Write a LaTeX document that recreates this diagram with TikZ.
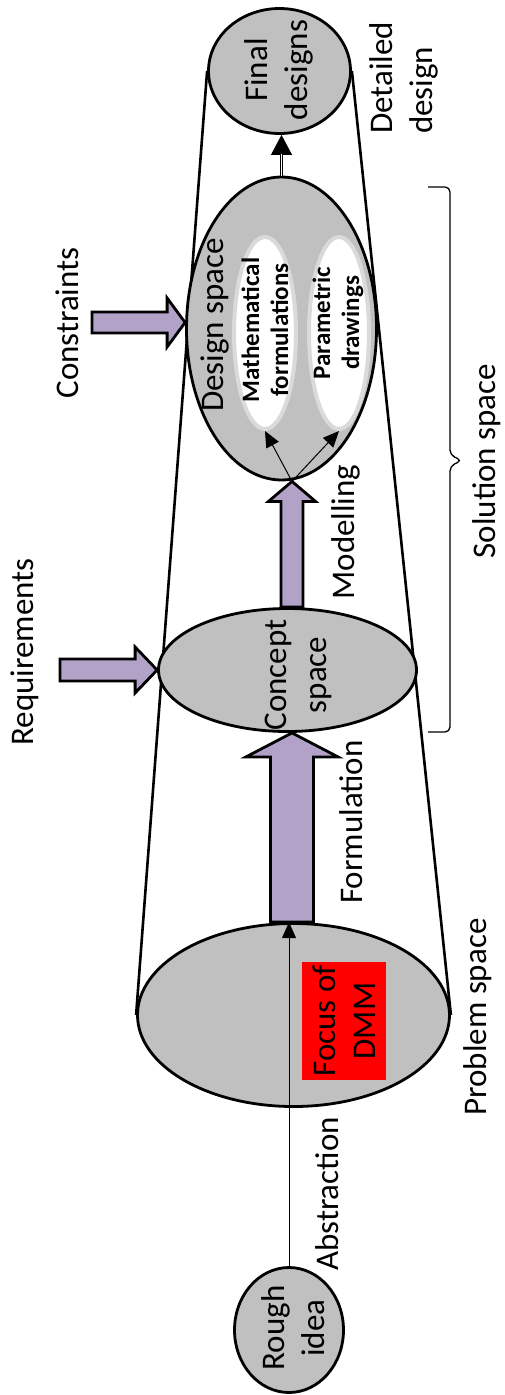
\documentclass[tikz,border=0pt]{standalone}
\usepackage{fontspec}
\setmainfont{Carlito}
\usetikzlibrary{arrows.meta,calc,shapes.geometric,backgrounds}
\definecolor{spacegray}{HTML}{C0C0C0}
\definecolor{flowpurple}{HTML}{B3A2C7}
\definecolor{innerrim}{HTML}{DADADA}

\tikzset{
  space/.style={ellipse, draw, line width=2.8pt, fill=spacegray, inner sep=0pt},
  inner/.style={ellipse, draw=innerrim, line width=4pt, fill=white, inner sep=0pt},
  lbl/.style={rotate=90, font=\fontsize{33}{40}\selectfont, align=center, inner sep=0pt},
  sublbl/.style={rotate=90, font=\bfseries\fontsize{25}{29}\selectfont, align=center, inner sep=0pt},
  funnel/.style={line width=2.6pt},
  blockarrow/.style={draw, line width=2.8pt, fill=flowpurple, line join=miter},
  thinarrow/.style={line width=1pt, -{Triangle[length=16pt,width=14pt]}},
}

% #1 name, #2 from, #3 to, #4 shaft half width, #5 head half width, #6 head length
\newcommand\fatarrow[6]{%
  \coordinate (#1-s) at (#2);
  \coordinate (#1-t) at (#3);
  \coordinate (#1-h) at ($(#1-t)!#6!(#1-s)$);
  \draw[blockarrow]
    ($(#1-s)!#4!90:(#1-t)$) -- ($(#1-h)!#4!90:(#1-t)$) -- ($(#1-h)!#5!90:(#1-t)$)
    -- (#1-t)
    -- ($(#1-h)!#5!-90:(#1-t)$) -- ($(#1-h)!#4!-90:(#1-t)$) -- ($(#1-s)!#4!-90:(#1-t)$)
    -- cycle;
}

\begin{document}
\begin{tikzpicture}[x=1pt, y=-1pt]
\useasboundingbox (0,0) rectangle (505,1395);

% the five spaces of the process
\node[space, minimum width=142pt, minimum height=125pt] (final)   at (279.5,71)   {};
\node[space, minimum width=190pt, minimum height=303pt] (design)  at (281.5,328.5) {};
\node[space, minimum width=258pt, minimum height=123pt] (concept) at (287.5,670)  {};
\node[space, minimum width=312pt, minimum height=183pt] (problem) at (293.5,1015) {};
\node[space, minimum width=109pt, minimum height=125pt] (rough)   at (289,1330)   {};

% the two models inside the design space
\node[inner, minimum width=62pt, minimum height=192pt] (math)  at (265,333) {};
\node[inner, minimum width=60pt, minimum height=192pt] (param) at (339,333) {};

% funnel outline behind the spaces
\begin{scope}[on background layer]
  \fill[white] (0,0) rectangle (505,1395);
  \draw[funnel] (final.west) -- (problem.west);
  \draw[funnel] (final.east) -- (problem.east);
\end{scope}

\coordinate (axis) at (292,0);
\coordinate (reqstart) at (60,670);
\coordinate (constart) at (92,322.5);

% block arrows
\fatarrow{formulation}{axis |- problem.north}{axis |- concept.south}{21.5pt}{46pt}{24pt}
\fatarrow{modelling}{axis |- concept.north}{axis |- design.south}{11pt}{23.5pt}{20pt}
\fatarrow{requirements}{reqstart}{concept.west |- reqstart}{11pt}{23pt}{22pt}
\fatarrow{constraints}{constart}{design.west |- constart}{10.5pt}{24.5pt}{18pt}

% thin arrows
\draw[thinarrow] (rough.north) -- (rough.north |- problem.north);
\draw[thinarrow] (axis |- design.south) -- (math.south);
\draw[thinarrow] (axis |- design.south) -- (param.south);

% double-shafted arrow to the final designs
\draw[line width=0.8pt, -{Triangle[length=20pt,width=21pt]}] (design.north) -- (design.north |- final.south);
\draw[line width=0.8pt, double=white, double distance=1.6pt, shorten >=19pt] (design.north) -- (design.north |- final.south);

% focus box
\node[lbl, fill=red, minimum width=118pt, minimum height=84pt] (focus) at (344,1021) {Focus of\\DMM};

% brace over the solution space
\draw[line width=1.3pt, rounded corners=5pt] (428,187) -- (450,187) -- (450,455) -- (462,460.5)
  -- (450,466) -- (450,732) -- (428,732);

% labels
\node[lbl] (tfinal) at (279,70) {Final\\designs};
\node[lbl, align=left] (tdetail) at (404,78) {Detailed\\design};
\node[lbl] (tcons) at (67,323) {Constraints};
\node[lbl] (treq) at (25,652) {Requirements};
\node[lbl] (tdesign) at (215,325) {Design space};
\node[sublbl] (tmath) at (265,330) {Mathematical\\formulations};
\node[sublbl] (tparam) at (338,323) {Parametric\\drawings};
\node[lbl] (tmodel) at (346,532) {Modelling};
\node[lbl] (tsol) at (487,461) {Solution space};
\node[lbl] (tconcept) at (298,675) {Concept\\space};
\node[lbl] (tform) at (351,822) {Formulation};
\node[lbl] (tprob) at (478,1017) {Problem space};
\node[lbl] (tabs) at (327,1194) {Abstraction};
\node[lbl] (trough) at (293,1328) {Rough\\idea};
\end{tikzpicture}
\end{document}
